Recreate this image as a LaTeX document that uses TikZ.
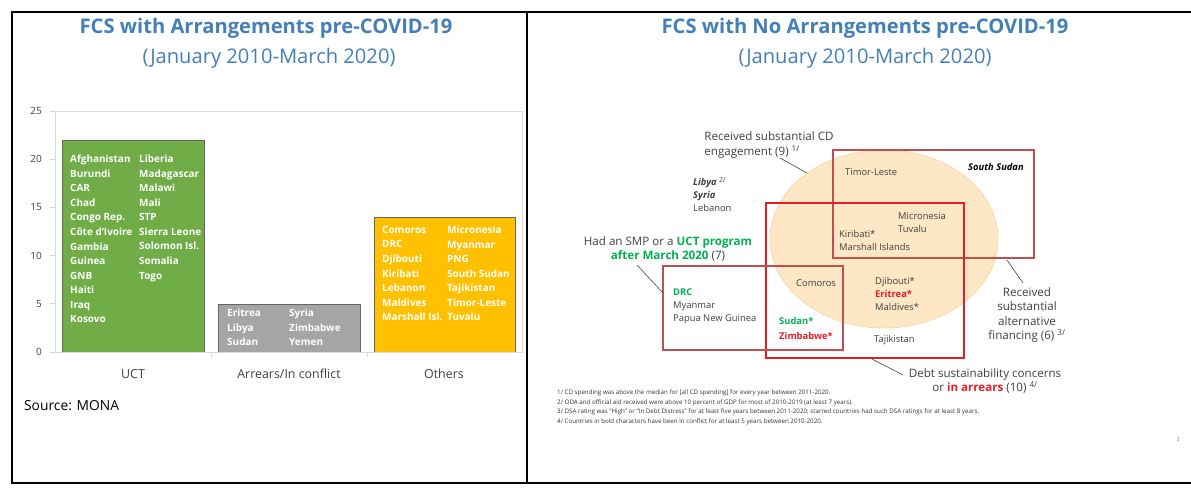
\documentclass[tikz,border=0pt]{standalone}
\usepackage{fontspec}
\setmainfont{Open Sans}
\usetikzlibrary{positioning}
\definecolor{TitleBlue}{RGB}{68,128,184}
\definecolor{BarGreen}{RGB}{112,173,71}
\definecolor{BarGray}{RGB}{165,165,165}
\definecolor{BarGold}{RGB}{255,192,0}
\definecolor{AxisGray}{RGB}{217,217,217}
\definecolor{TextGray}{RGB}{64,64,64}
\definecolor{VennGreen}{RGB}{0,176,80}
\definecolor{VennRed}{RGB}{232,28,36}
\definecolor{BoxRed}{RGB}{192,80,77}
\definecolor{Peach}{RGB}{253,231,196}
\definecolor{PeachLine}{RGB}{248,214,165}

\begin{document}
\begin{tikzpicture}[
    x=0.03cm, y=-0.03cm,
    ttl/.style={font=\fontsize{17.2}{19}\selectfont\bfseries, text=TitleBlue},
    subttl/.style={font=\fontsize{17.2}{19}\selectfont, text=TitleBlue},
    barlist/.style={anchor=north west, inner sep=0pt, align=left, text=white, font=\fontsize{8.5}{12.4}\selectfont\bfseries},
    bar/.style={draw=black!60, line width=0.5pt},
    ylab/.style={anchor=east, font=\fontsize{8.5}{10}\selectfont, text=TextGray},
    cat/.style={font=\fontsize{10.6}{12}\selectfont, text=TextGray},
    ctry/.style={anchor=north west, inner sep=0pt, align=left, font=\fontsize{8}{11.2}\selectfont, text=TextGray},
    note/.style={align=center, inner sep=0pt, font=\fontsize{9.9}{12.5}\selectfont, text=TextGray},
    lead/.style={draw=TextGray, line width=0.5pt},
    foot/.style={anchor=north west, inner sep=0pt, align=left, font=\fontsize{5.3}{8}\selectfont, text=black!80},
]
\useasboundingbox (0,0) rectangle (1191,494);

% frame of the two panels
\draw[line width=1.6pt] (1191,12) -- (12,12) -- (12,483) -- (1191,483);
\draw[line width=1.6pt] (527,12) -- (527,483);

% left panel: bar chart
\node[ttl] (ltitle) at (266,28) {FCS with Arrangements pre-COVID-19};
\node[subttl] (lsub) at (269,58) {(January 2010-March 2020)};

\draw[AxisGray, line width=0.6pt] (55,111) rectangle (522,352);
\foreach \v in {0,5,...,25} {
    \draw[AxisGray, line width=0.6pt] (50,352-9.64*\v) -- (55,352-9.64*\v);
    \node[ylab] (ytick\v) at (46,352-9.64*\v) {\v};
}
\foreach \x in {211,367} {
    \draw[AxisGray, line width=0.6pt] (\x,352) -- (\x,357);
}

\fill[BarGreen] (62,352) rectangle (204,140);
\draw[bar] (62,352) -- (62,140) -- (204,140) -- (204,352);
\fill[BarGray] (218,352) rectangle (360,304);
\draw[bar] (218,352) -- (218,304) -- (360,304) -- (360,352);
\fill[BarGold] (374,352) rectangle (515,217);
\draw[bar] (374,352) -- (374,217) -- (515,217) -- (515,352);

\node[barlist] (uct1) at (70,155) {Afghanistan\\Burundi\\CAR\\Chad\\Congo Rep.\\Côte d'Ivoire\\Gambia\\Guinea\\GNB\\Haiti\\Iraq\\Kosovo};
\node[barlist] (uct2) at (139,155) {Liberia\\Madagascar\\Malawi\\Mali\\STP\\Sierra Leone\\Solomon Isl.\\Somalia\\Togo};
\node[barlist] (arr1) at (227,309) {Eritrea\\Libya\\Sudan};
\node[barlist] (arr2) at (289,309) {Syria\\Zimbabwe\\Yemen};
\node[barlist] (oth1) at (382,226) {Comoros\\DRC\\Djibouti\\Kiribati\\Lebanon\\Maldives\\Marshall Isl.};
\node[barlist] (oth2) at (447,226) {Micronesia\\Myanmar\\PNG\\South Sudan\\Tajikistan\\Timor-Leste\\Tuvalu};

\node[cat] (cuct) at (133,374) {UCT};
\node[cat] (carr) at (289,374) {Arrears/In conflict};
\node[cat] (coth) at (444,374) {Others};
\node[anchor=west, font=\fontsize{11.8}{14}\selectfont, text=black] (src) at (20,406) {Source: MONA};

% right panel: overlapping groups
\node[ttl] (rtitle) at (865,28) {FCS with No Arrangements pre-COVID-19};
\node[subttl] (rsub) at (865,58) {(January 2010-March 2020)};

\draw[PeachLine, fill=Peach, line width=0.6pt] (884,239) ellipse [x radius=114, y radius=89];
\draw[BoxRed, line width=0.9pt] (833,150) rectangle (1034,258);
\draw[VennRed, line width=0.9pt] (766,203) rectangle (964,358);
\draw[BoxRed, line width=0.9pt] (663,266) rectangle (843,350);

\node[ctry] (timor) at (845,168) {Timor-Leste};
\node[ctry, font=\fontsize{8}{11.2}\selectfont\bfseries\itshape, text=black] (ssudan) at (968,163) {South Sudan};
\node[ctry] (micro) at (898,212) {Micronesia\\Tuvalu};
\node[ctry] (kiri) at (839,230) {Kiribati*\\Marshall Islands};
\node[ctry] (como) at (796,279) {Comoros};
\node[ctry] (djib) at (875,277) {Djibouti*\\{\bfseries\color{VennRed}Eritrea*}\\Maldives*};
\node[ctry] (drc) at (673,288) {{\bfseries\color{VennGreen}DRC}\\Myanmar\\Papua New Guinea};
\node[ctry, font=\fontsize{8}{12.5}\selectfont\bfseries] (sudan) at (779,317) {{\color{VennGreen}Sudan*}\\{\color{VennRed}Zimbabwe*}};
\node[ctry] (taji) at (874,335) {Tajikistan};
\node[ctry] (libya) at (693,177) {{\bfseries\itshape Libya} \textsuperscript{2/}\\{\bfseries\itshape Syria}\\Lebanon};

\node[note, align=left] (cdnote) at (769,145) {Received substantial CD\\engagement (9) \textsuperscript{1/}};
\node[note] (smpnote) at (668,249) {Had an SMP or a {\bfseries\color{VennGreen}UCT program}\\{\bfseries\color{VennGreen}after March 2020} (7)};
\node[note] (altnote) at (1027,315) {Received\\substantial\\alternative\\financing (6) \textsuperscript{3/}};
\node[note] (debtnote) at (985,381) {Debt sustainability concerns\\or {\bfseries\color{VennRed}in arrears} (10) \textsuperscript{4/}};

% leader lines from the notes to their groups
\coordinate (cdstart) at (780,158);
\coordinate (cdend) at (807,173);
\coordinate (smpstart) at (637,265);
\coordinate (smpend) at (663,293);
\coordinate (altstart) at (1023,283);
\coordinate (altend) at (1007,260);
\coordinate (debtstart) at (903,375);
\coordinate (debtend) at (872,359);
\draw[lead] (cdstart) -- (cdend);
\draw[lead] (smpstart) -- (smpend);
\draw[lead] (altstart) -- (altend);
\draw[lead] (debtstart) -- (debtend);

\node[foot] (fn) at (557,390) {1/ CD spending was above the median for [all CD spending] for every year between 2011-2020.\\
2/ ODA and official aid received were above 10 percent of GDP for most of 2010-2019 (at least 7 years).\\
3/ DSA rating was ``High'' or ``In Debt Distress'' for at least five years between 2011-2020; starred countries had such DSA ratings for at least 8 years.\\
4/ Countries in bold characters have been in conflict for at least 5 years between 2010-2020.};
\node[font=\fontsize{4.5}{5}\selectfont, text=black!50] (pgnum) at (1178,440) {3};
\end{tikzpicture}
\end{document}
